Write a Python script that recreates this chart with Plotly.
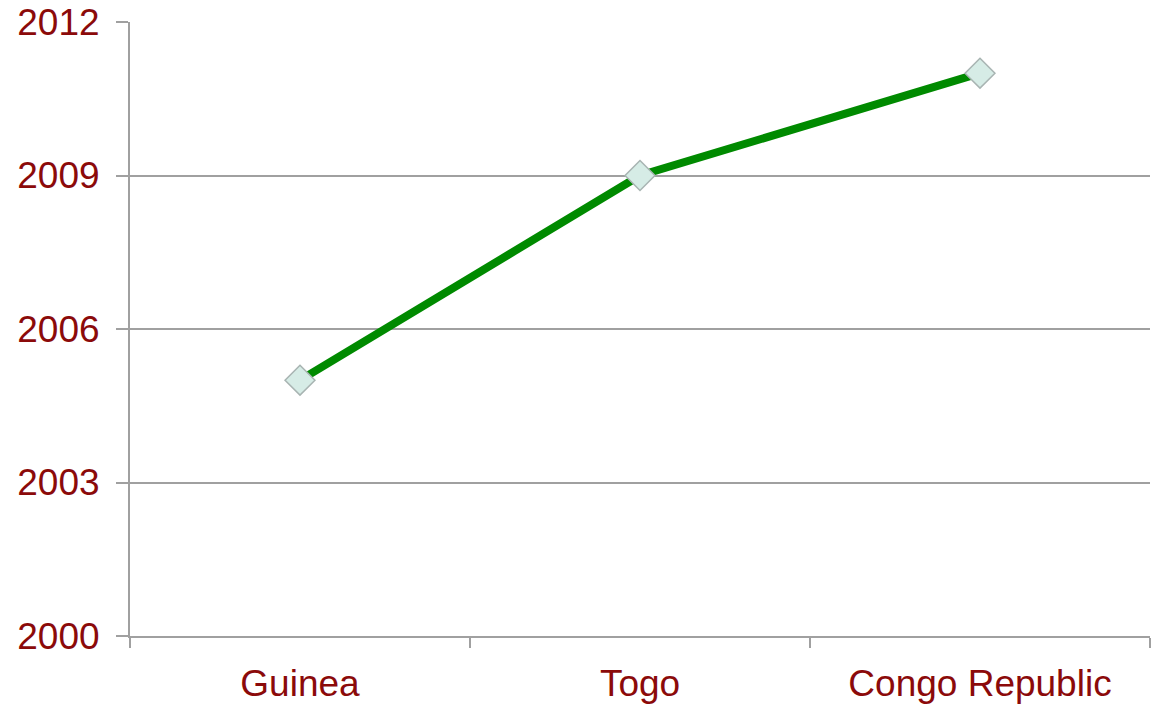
import plotly.graph_objects as go

categories = ["Guinea", "Togo", "Congo Republic"]
years = [2005, 2009, 2011]
y_ticks = [2000, 2003, 2006, 2009, 2012]

label_color = "#8B0A0A"
fig = go.Figure()
fig.add_trace(go.Scatter(
    x=categories, y=years, mode="lines+markers",
    line=dict(color="#008A00", width=8),
    marker=dict(symbol="diamond", size=23, color="#D6ECE6",
                line=dict(color="#A8B4B2", width=1.5)),
    showlegend=False,
))
fig.update_layout(
    width=1153, height=707,
    margin=dict(l=130, r=3, t=22, b=71),
    plot_bgcolor="white", paper_bgcolor="white",
    font=dict(family="Liberation Sans, Arial, sans-serif", size=37, color=label_color),
)
fig.update_xaxes(
    type="category", range=[-0.5, 2.5], automargin=False,
    showgrid=False, showline=True, linecolor="#A0A0A0", linewidth=2,
    ticks="outside", tickson="boundaries", ticklen=10, tickcolor="#A0A0A0", tickwidth=2,
    tickfont=dict(size=37, color=label_color), ticklabelstandoff=14,
)
fig.update_yaxes(
    range=[2000, 2012], tickvals=y_ticks, ticktext=[str(v) for v in y_ticks],
    automargin=False,
    showgrid=True, gridcolor="#A0A0A0", gridwidth=1.5,
    showline=True, linecolor="#A0A0A0", linewidth=2,
    ticks="outside", ticklen=12, tickcolor="#A0A0A0", tickwidth=2,
    tickfont=dict(size=37, color=label_color), zeroline=False,
    ticklabelstandoff=9,
)
fig.write_html(
    "out.html",
    config={"displayModeBar": False},
    post_script="document.body.style.margin='0';document.body.style.overflow='hidden';",
)
